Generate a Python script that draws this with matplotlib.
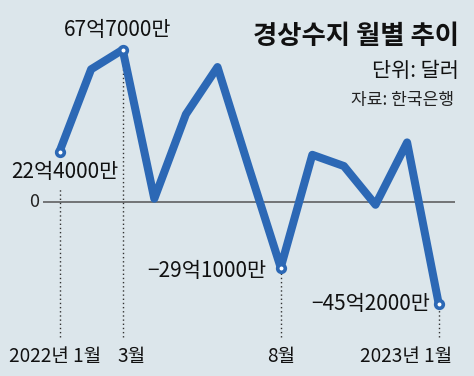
import matplotlib
matplotlib.use("Agg")
import matplotlib.pyplot as plt
import matplotlib.transforms as mtransforms

plt.rcParams['font.family'] = ['Noto Sans CJK KR', 'DejaVu Sans']

# ---- data (억 달러) ----
months = ["2022-01", "2022-02", "2022-03", "2022-04", "2022-05", "2022-06", "2022-07",
          "2022-08", "2022-09", "2022-10", "2022-11", "2022-12", "2023-01"]
values = [22.4, 59.0, 67.7, 1.5, 39.0, 60.0, 15.0, -29.1, 21.0, 16.0, -1.2, 26.5, -45.2]

labeled_idx = [0, 2, 7, 12]
value_labels = ["22억4000만", "67억7000만", "−29억1000만", "−45억2000만"]
tick_idx = [0, 2, 7, 12]
tick_labels = ["2022년 1월", "3월", "8월", "2023년 1월"]

title = "경상수지 월별 추이"
unit = "단위: 달러"
source = "자료: 한국은행"

BG = "#dce6eb"
BLUE = "#2c68b5"

fig = plt.figure(figsize=(4.74, 3.76), dpi=100)
fig.patch.set_facecolor(BG)
ax = fig.add_axes([0, 0, 1, 1])
ax.set_facecolor(BG)
ax.set_xlim(-1.883, 13.117)
ax.set_ylim(-77.3, 89.8)
ax.axis("off")

x = list(range(len(values)))

# zero line
ax.hlines(0, -0.52, 12.52, color="#555555", lw=1.1, zorder=1)
ax.text(-0.66, 0, "0", ha="right", va="center", fontsize=13, color="#222222")

# dotted guide lines
tops = [6, values[2], values[7], values[12]]
for i, t in zip(tick_idx, tops):
    ax.vlines(i, -60, t, color="#333333", lw=1.0, linestyles=(0, (1, 2)), zorder=1)

# main line
ax.plot(x, values, color=BLUE, lw=5.8, solid_joinstyle="round", solid_capstyle="round", zorder=3)
ax.plot([x[i] for i in labeled_idx], [values[i] for i in labeled_idx], "o",
        ms=5.5, mfc="white", mec=BLUE, mew=2.6, zorder=4)

# value labels
offsets = [(4, -14.5, "center"), (-3.5, 14.5, "center"), (-10, -2.5, "right"), (-6.5, -0.5, "right")]
for i, lab, (dx, dy, ha) in zip(labeled_idx, value_labels, offsets):
    ax.annotate(lab, (x[i], values[i]), xytext=(dx, dy), textcoords="offset points",
                ha=ha, va="center", fontsize=15, color="#111111", zorder=5)

# x labels
trans = mtransforms.blended_transform_factory(ax.transData, ax.transAxes)
tick_off = [(-3, "center"), (6, "center"), (0, "center"), (10, "right")]
for i, lab, (dx, ha) in zip(tick_idx, tick_labels, tick_off):
    ax.annotate(lab, (x[i], 0.052), xycoords=trans, xytext=(dx, 0), textcoords="offset points",
                ha=ha, va="center", fontsize=13.7, color="#111111")

# title block
ax.text(0.968, 0.902, title, transform=ax.transAxes, ha="right", va="center",
        fontsize=19, fontweight="bold", color="#111111")
ax.text(0.968, 0.811, unit, transform=ax.transAxes, ha="right", va="center",
        fontsize=15, color="#111111")
ax.text(0.958, 0.734, source, transform=ax.transAxes, ha="right", va="center",
        fontsize=12.3, color="#222222")

fig.savefig("out.png", dpi=100, facecolor=BG)
